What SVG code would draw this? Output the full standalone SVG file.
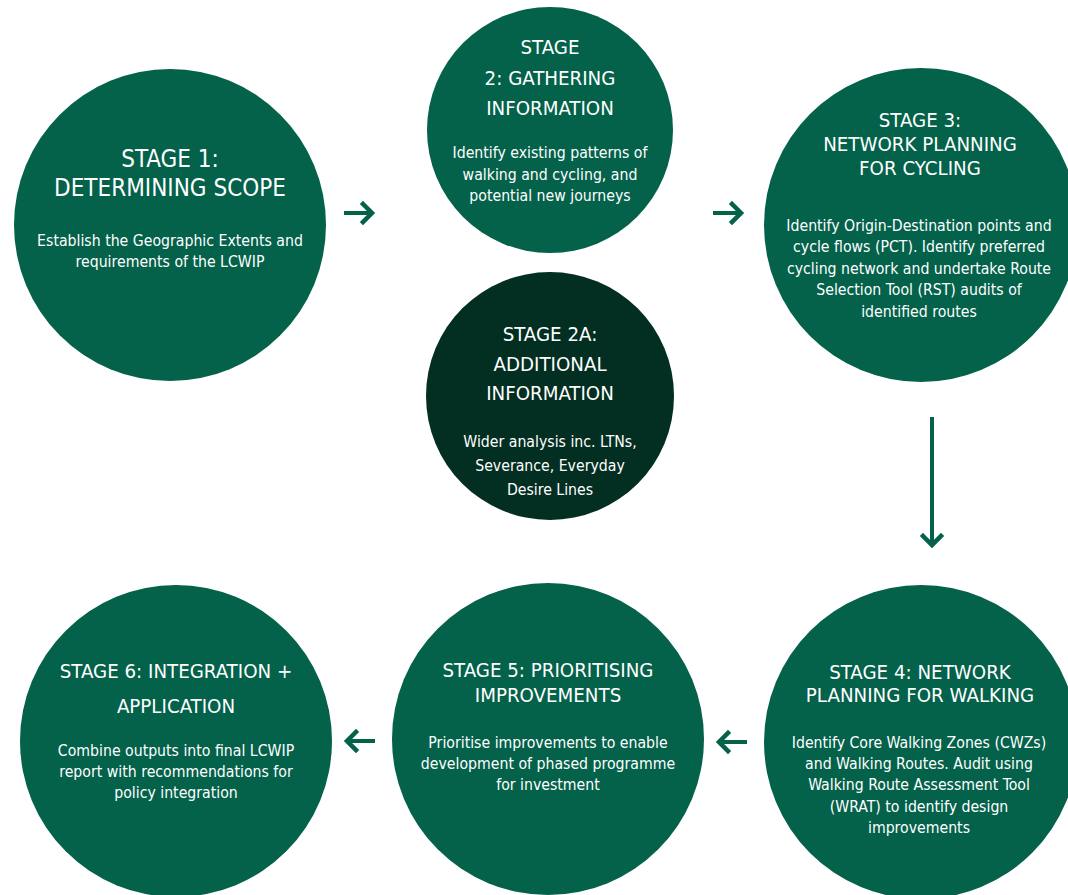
<svg xmlns="http://www.w3.org/2000/svg" width="1068" height="895" viewBox="0 0 1068 895">
  <defs>
    <style>
      .stage { fill: #04614a; }
      .stage-dark { fill: #032e22; }
      text { font-family: 'DejaVu Sans', 'Liberation Sans', sans-serif; font-stretch: condensed; fill: #ffffff; text-anchor: middle; }
      .title { font-size: 20.3px; }
      .title-lg { font-size: 24px; }
      .body { font-size: 15.7px; }
      .flow { stroke: #04614a; stroke-width: 4; fill: none; }
      .head { stroke: #04614a; stroke-width: 4.5; fill: none; stroke-linecap: square; stroke-linejoin: miter; }
    </style>
  </defs>
  <rect width="1068" height="895" fill="#ffffff"/>

  <!-- Stage 1 -->
  <g id="stage1">
    <circle class="stage" cx="170" cy="225" r="156"/>
    <text class="title-lg" x="170" y="167">STAGE 1:</text>
    <text class="title-lg" x="170" y="196">DETERMINING SCOPE</text>
    <text class="body" x="170" y="246">Establish the Geographic Extents and</text>
    <text class="body" x="170" y="267">requirements of the LCWIP</text>
  </g>

  <!-- Stage 2 -->
  <g id="stage2">
    <circle class="stage" cx="550" cy="130" r="123"/>
    <text class="title" x="550" y="54">STAGE</text>
    <text class="title" x="550" y="85">2: GATHERING</text>
    <text class="title" x="550" y="115">INFORMATION</text>
    <text class="body" x="550" y="158">Identify existing patterns of</text>
    <text class="body" x="550" y="180">walking and cycling, and</text>
    <text class="body" x="550" y="201">potential new journeys</text>
  </g>

  <!-- Stage 2A -->
  <g id="stage2a">
    <circle class="stage-dark" cx="550" cy="396" r="124"/>
    <text class="title" x="550" y="341">STAGE 2A:</text>
    <text class="title" x="550" y="371">ADDITIONAL</text>
    <text class="title" x="550" y="400">INFORMATION</text>
    <text class="body" x="550" y="447">Wider analysis inc. LTNs,</text>
    <text class="body" x="550" y="471">Severance, Everyday</text>
    <text class="body" x="550" y="495">Desire Lines</text>
  </g>

  <!-- Stage 3 -->
  <g id="stage3">
    <circle class="stage" cx="921" cy="225" r="157"/>
    <text class="title" x="920" y="127">STAGE 3:</text>
    <text class="title" x="920" y="151">NETWORK PLANNING</text>
    <text class="title" x="920" y="175">FOR CYCLING</text>
    <text class="body" x="919" y="231">Identify Origin-Destination points and</text>
    <text class="body" x="919" y="252">cycle flows (PCT). Identify preferred</text>
    <text class="body" x="919" y="274">cycling network and undertake Route</text>
    <text class="body" x="919" y="295">Selection Tool (RST) audits of</text>
    <text class="body" x="919" y="317">identified routes</text>
  </g>

  <!-- Stage 4 -->
  <g id="stage4">
    <circle class="stage" cx="921" cy="742" r="157"/>
    <text class="title" x="920" y="679">STAGE 4: NETWORK</text>
    <text class="title" x="920" y="702">PLANNING FOR WALKING</text>
    <text class="body" x="919" y="748">Identify Core Walking Zones (CWZs)</text>
    <text class="body" x="919" y="769">and Walking Routes. Audit using</text>
    <text class="body" x="919" y="790">Walking Route Assessment Tool</text>
    <text class="body" x="919" y="812">(WRAT) to identify design</text>
    <text class="body" x="919" y="833">improvements</text>
  </g>

  <!-- Stage 5 -->
  <g id="stage5">
    <circle class="stage" cx="548" cy="739" r="156"/>
    <text class="title" x="548" y="677">STAGE 5: PRIORITISING</text>
    <text class="title" x="548" y="702">IMPROVEMENTS</text>
    <text class="body" x="548" y="748">Prioritise improvements to enable</text>
    <text class="body" x="548" y="769">development of phased programme</text>
    <text class="body" x="548" y="790">for investment</text>
  </g>

  <!-- Stage 6 -->
  <g id="stage6">
    <circle class="stage" cx="176" cy="741" r="156"/>
    <text class="title" x="176" y="678">STAGE 6: INTEGRATION +</text>
    <text class="title" x="176" y="713">APPLICATION</text>
    <text class="body" x="176" y="756">Combine outputs into final LCWIP</text>
    <text class="body" x="176" y="777">report with recommendations for</text>
    <text class="body" x="176" y="798">policy integration</text>
  </g>

  <!-- Connectors between stages -->
  <g id="connectors">
    <!-- 1 to 2 -->
    <line class="flow" x1="344" y1="213" x2="372" y2="213"/>
    <polyline class="head" points="363,204 372,213 363,222"/>
    <!-- 2 to 3 -->
    <line class="flow" x1="713" y1="213" x2="741" y2="213"/>
    <polyline class="head" points="732,204 741,213 732,222"/>
    <!-- 3 to 4 -->
    <line class="flow" x1="932" y1="417" x2="932" y2="545"/>
    <polyline class="head" points="923,536 932,545 941,536"/>
    <!-- 4 to 5 -->
    <line class="flow" x1="747" y1="742" x2="719" y2="742"/>
    <polyline class="head" points="728,733 719,742 728,751"/>
    <!-- 5 to 6 -->
    <line class="flow" x1="375" y1="741" x2="347" y2="741"/>
    <polyline class="head" points="356,732 347,741 356,750"/>
  </g>
</svg>
